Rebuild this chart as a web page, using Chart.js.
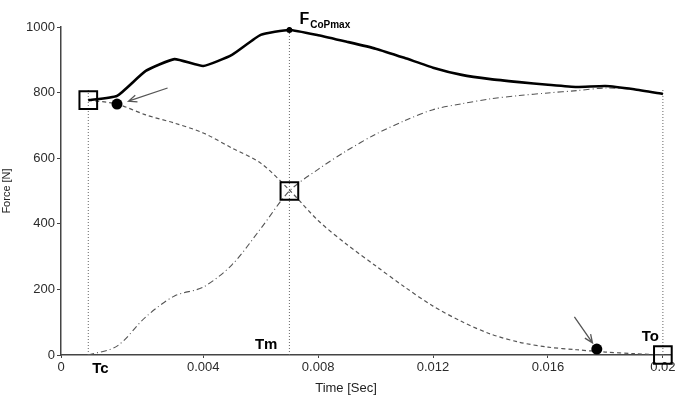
<!DOCTYPE html>
<html>
<head>
<meta charset="utf-8">
<script src="https://cdn.jsdelivr.net/npm/chart.js@4"></script>
<style>
  html, body { margin: 0; padding: 0; background: #fff; overflow: hidden; }
  #wrap { width: 686px; height: 399px; }
  canvas { display: block; }
</style>
</head>
<body>
<div id="wrap"><canvas id="force-chart"></canvas></div>
<script>
// datos (tiempo en s, fuerza en N)
var time = [0, 0.001, 0.002, 0.003, 0.004, 0.005, 0.006, 0.007, 0.008, 0.009, 0.010,
            0.011, 0.012, 0.013, 0.014, 0.015, 0.016, 0.017, 0.018, 0.019, 0.020];
var totalForce = [777, 790, 866, 902, 881, 915, 976, 991, 975, 955, 934,
                  906, 876, 854, 841, 832, 824, 817, 820, 810, 796];
var decForce = [777, 765, 732, 707, 677, 631, 585, 503, 410, 337, 272,
                208, 149, 102, 64, 39, 24, 16, 9, 4, 0];
var incForce = [0, 27, 116, 180, 207, 275, 385, 500, 566, 623, 673,
                714, 748, 766, 781, 791, 799, 806, 814, 810, 796];

// eventos Tc, Tm, To
var eventLabels = ['Tc', 'Tm', 'To'];
var eventTimes = [0, 0.007, 0.02];
var eventForces = [777, 500, 0];
var eventLineTop = [814, 1000, 814];

// puntos negros y pico
var dotTimes = [0.001, 0.0177];
var dotForces = [765, 18];
var peakTime = [0.007];
var peakForce = [991];

// ticks
var xTicks = [0.004, 0.008, 0.012, 0.016, 0.02];
var yTicks = [0, 200, 400, 600, 800, 1000];

function pts(xs, ys) {
    return xs.map(function (x, i) { return { x: x, y: ys[i] }; });
}

var X_MIN = -0.00095;
var X_MAX = 0.0203;
var font = "'Liberation Sans', Arial, sans-serif";

var datasets = [];

// lineas verticales punteadas
eventTimes.forEach(function (t, i) {
    datasets.push({
        data: [{ x: t, y: 0 }, { x: t, y: eventLineTop[i] }],
        showLine: true, borderColor: '#666', borderWidth: 1, borderDash: [1, 2],
        pointRadius: 0, order: 3
    });
});

datasets.push({
    data: pts(time, totalForce), showLine: true, borderColor: '#000', borderWidth: 2.6,
    pointRadius: 0, tension: 0.15, order: 1
});
datasets.push({
    data: pts(time, decForce), showLine: true, borderColor: '#555', borderWidth: 1.2,
    borderDash: [4, 3], pointRadius: 0, tension: 0.3, order: 2
});
datasets.push({
    data: pts(time, incForce), showLine: true, borderColor: '#555', borderWidth: 1.1,
    borderDash: [6, 3, 1, 3], pointRadius: 0, tension: 0.3, order: 2
});

// cuadrados
datasets.push({
    data: pts(eventTimes, eventForces), showLine: false, pointStyle: 'rect',
    pointRadius: 12.5, pointBorderWidth: 2, pointBorderColor: '#000',
    pointBackgroundColor: 'rgba(0,0,0,0)', order: 0, clip: false
});
// circulos
datasets.push({
    data: pts(dotTimes, dotForces), showLine: false, pointStyle: 'circle',
    pointRadius: 5.5, pointBorderWidth: 0, pointBackgroundColor: '#000', order: 0
});
datasets.push({
    data: pts(peakTime, peakForce), showLine: false, pointStyle: 'circle',
    pointRadius: 3, pointBorderWidth: 0, pointBackgroundColor: '#000', order: 0
});

// flechas (en unidades de datos)
var arrows = [
    { from: [0.00276, 814], to: [0.0014, 774] },
    { from: [0.01692, 116], to: [0.01755, 37] }
];

var annotations = {
    id: 'annotations',
    afterDatasetsDraw: function (chart) {
        var ctx = chart.ctx;
        var xs = chart.scales.x, ys = chart.scales.y;
        ctx.save();

        // flechas
        ctx.strokeStyle = '#555';
        ctx.lineWidth = 1.3;
        arrows.forEach(function (a) {
            var x1 = xs.getPixelForValue(a.from[0]), y1 = ys.getPixelForValue(a.from[1]);
            var x2 = xs.getPixelForValue(a.to[0]), y2 = ys.getPixelForValue(a.to[1]);
            var ang = Math.atan2(y2 - y1, x2 - x1);
            ctx.beginPath();
            ctx.moveTo(x1, y1); ctx.lineTo(x2, y2);
            ctx.moveTo(x2 - 9 * Math.cos(ang - 0.4), y2 - 9 * Math.sin(ang - 0.4));
            ctx.lineTo(x2, y2);
            ctx.lineTo(x2 - 9 * Math.cos(ang + 0.4), y2 - 9 * Math.sin(ang + 0.4));
            ctx.stroke();
        });

        // etiquetas Tc Tm To
        ctx.fillStyle = '#000';
        ctx.font = 'bold 15px ' + font;
        ctx.textBaseline = 'middle';
        var y0 = ys.getPixelForValue(0);
        var offs = [[4, 14, 'left'], [-12, -10, 'right'], [-4, -18, 'right']];
        eventTimes.forEach(function (t, i) {
            ctx.textAlign = offs[i][2];
            ctx.fillText(eventLabels[i], xs.getPixelForValue(t) + offs[i][0], y0 + offs[i][1]);
        });

        // F CoPmax
        var px = xs.getPixelForValue(peakTime[0]) + 10;
        var py = ys.getPixelForValue(peakForce[0]) - 10;
        ctx.textAlign = 'left';
        ctx.font = 'bold 16px ' + font;
        ctx.fillText('F', px, py);
        var w = ctx.measureText('F').width;
        ctx.font = 'bold 10px ' + font;
        ctx.fillText('CoPmax', px + w + 1, py + 5);

        // titulo eje x
        ctx.fillStyle = '#222';
        ctx.font = '13px ' + font;
        ctx.textAlign = 'center';
        ctx.fillText('Time [Sec]', 346, 388);
        ctx.restore();
    }
};

var ctx = document.getElementById('force-chart').getContext('2d');
var chart = new Chart(ctx, {
    type: 'scatter',
    data: { datasets: datasets },
    options: {
        responsive: true,
        maintainAspectRatio: false,
        animation: false,
        layout: { padding: { top: 27, right: 6, left: 0, bottom: 0 } },
        plugins: { legend: { display: false }, tooltip: { enabled: false } },
        scales: {
            x: {
                type: 'linear', min: X_MIN, max: X_MAX,
                afterBuildTicks: function (scale) {
                    var vals = [X_MIN].concat(xTicks);
                    scale.ticks = vals.map(function (v) { return { value: v }; });
                },
                afterFit: function (scale) { scale.height = 44; },
                ticks: {
                    color: '#2b2b2b', font: { size: 13, family: font }, padding: 2,
                    maxRotation: 0, autoSkip: false,
                    callback: function (v) { return v < 0.001 ? '0' : String(v); }
                },
                grid: { drawOnChartArea: false, tickLength: 3, color: '#444' },
                border: { color: '#444', width: 1.5 }
            },
            y: {
                min: 0, max: 1000,
                afterBuildTicks: function (scale) {
                    scale.ticks = yTicks.map(function (v) { return { value: v }; });
                },
                afterFit: function (scale) { scale.width = 61; },
                ticks: {
                    color: '#2b2b2b', font: { size: 13, family: font }, padding: 2,
                    callback: function (v) { return String(v); }
                },
                grid: { drawOnChartArea: false, tickLength: 4, color: '#444' },
                border: { color: '#444', width: 1.5 },
                title: {
                    display: true, text: 'Force [N]', color: '#222', padding: 0,
                    font: { size: 11, family: "'Liberation Sans Narrow', " + font }
                }
            }
        }
    },
    plugins: [annotations]
});
</script>
</body>
</html>
